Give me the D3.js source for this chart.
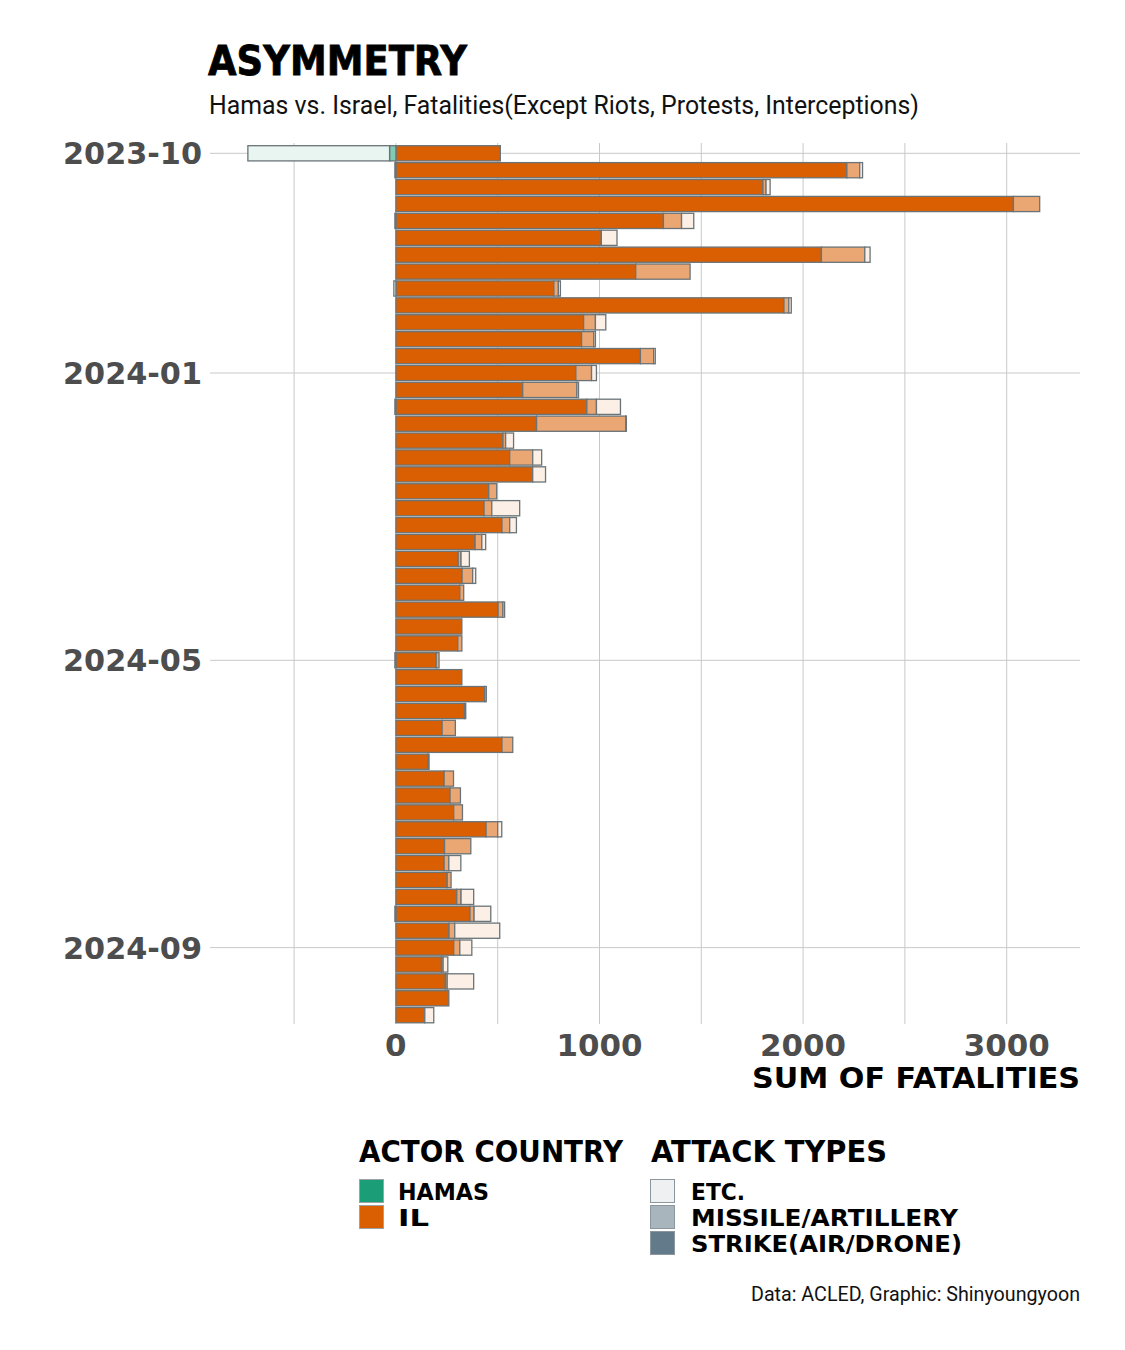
<!DOCTYPE html>
<html>
<head>
<meta charset="utf-8">
<script src="https://cdn.jsdelivr.net/npm/d3@7"></script>
<style>
  html, body { margin: 0; padding: 0; background: #fff; }
  svg { display: block; }
</style>
</head>
<body>
<svg id="chart" width="1125" height="1350"></svg>
<script>
// ---------------- DATA ----------------
const weeks = [
  "2023-10-01","2023-10-08","2023-10-15","2023-10-22","2023-10-29","2023-11-05","2023-11-12","2023-11-19","2023-11-26",
  "2023-12-03","2023-12-10","2023-12-17","2023-12-24","2023-12-31","2024-01-07","2024-01-14","2024-01-21","2024-01-28",
  "2024-02-04","2024-02-11","2024-02-18","2024-02-25","2024-03-03","2024-03-10","2024-03-17","2024-03-24","2024-03-31",
  "2024-04-07","2024-04-14","2024-04-21","2024-04-28","2024-05-05","2024-05-12","2024-05-19","2024-05-26","2024-06-02",
  "2024-06-09","2024-06-16","2024-06-23","2024-06-30","2024-07-07","2024-07-14","2024-07-21","2024-07-28","2024-08-04",
  "2024-08-11","2024-08-18","2024-08-25","2024-09-01","2024-09-08","2024-09-15","2024-09-22"
];
// IL fatalities by attack type
const ilStrike = [513,2215,1803,3033,1314,1009,2090,1178,776,1906,922,912,1201,884,623,938,691,526,559,672,456,433,521,389,306,325,314,502,324,304,198,324,436,337,227,521,157,237,266,284,443,239,237,252,299,364,261,284,224,243,260,142];
const ilMissile = [0,63,15,129,89,0,213,267,22,24,58,60,65,77,266,47,438,13,113,0,39,38,38,33,14,52,19,24,0,20,14,0,8,6,65,53,6,46,51,43,57,129,23,19,21,20,28,30,8,9,0,0];
const ilEtc = [0,14,20,0,60,77,26,0,10,12,51,8,8,24,8,118,3,39,44,63,0,137,33,19,41,15,0,8,0,0,0,0,0,0,0,0,0,0,0,0,20,0,59,0,62,82,221,59,23,130,0,44];
// Hamas fatalities by attack type (drawn to the left)
const hamasStrike = new Array(52).fill(0);
const hamasMissile = [31,0,0,0,0,0,0,0,0,0,0,0,0,0,0,0,0,0,0,0,0,0,0,0,0,0,0,0,0,0,0,0,0,0,0,0,0,0,0,0,0,0,0,0,0,0,0,0,0,0,0,0];
const hamasEtc = [696,5,0,0,5,0,0,0,10,0,0,0,0,0,0,5,0,0,0,0,0,0,0,0,0,0,0,0,0,0,5,0,0,0,0,0,0,0,0,0,0,0,0,0,0,5,0,0,0,0,0,0];

const yTickWeeks = ["2023-10-01","2023-12-31","2024-04-28","2024-08-25"];
const yTickLabels = ["2023-10","2024-01","2024-05","2024-09"];
const xTicks = [0,1000,2000,3000];
const xGrid = [-500,0,500,1000,1500,2000,2500,3000];
const actors = ["HAMAS","IL"];
const attackTypes = ["ETC.","MISSILE/ARTILLERY","STRIKE(AIR/DRONE)"];

// ---------------- STYLE ----------------
const actorColor = {HAMAS: "#1b9e77", IL: "#d95f02"};
const typeAlpha = {strike: 1, missile: 0.55, etc: 0.1};
const legendTypeColor = ["#eef0f2", "#a9b5bc", "#627a8a"];
const strokeCol = "#6a7478";
const display = "'DejaVu Sans', sans-serif";
const cond = "Roboto, 'Liberation Sans Narrow', sans-serif";

function tint(hex, a) {
  const c = d3.rgb(hex);
  return d3.rgb(c.r*a + 255*(1-a), c.g*a + 255*(1-a), c.b*a + 255*(1-a)).formatHex();
}

const svg = d3.select("#chart");
svg.append("rect").attr("width",1125).attr("height",1350).attr("fill","#fff");

const plotL = 210, plotR = 1080, plotT = 143, plotB = 1024;
const x = d3.scaleLinear().domain([-913, 3360]).range([plotL, plotR]);
const y = d3.scaleBand().domain(weeks).range([144.85, 1023.65]).paddingInner(0.1).paddingOuter(0.05);

// grid
const grid = svg.append("g");
grid.selectAll("line.v").data(xGrid).join("line")
  .attr("x1", d => x(d)).attr("x2", d => x(d))
  .attr("y1", plotT).attr("y2", plotB)
  .attr("stroke", "#c9c9c9").attr("stroke-width", 1);
grid.selectAll("line.h").data(yTickWeeks).join("line")
  .attr("x1", plotL).attr("x2", plotR)
  .attr("y1", d => y(d) + y.bandwidth()/2).attr("y2", d => y(d) + y.bandwidth()/2)
  .attr("stroke", "#c9c9c9").attr("stroke-width", 1);

// build segments
const segs = [];
weeks.forEach((w, i) => {
  let acc = 0;
  [["strike", ilStrike[i]], ["missile", ilMissile[i]], ["etc", ilEtc[i]]].forEach(([t, v]) => {
    if (v > 0) { segs.push({w, actor:"IL", type:t, x0:acc, x1:acc+v}); acc += v; }
  });
  acc = 0;
  [["strike", hamasStrike[i]], ["missile", hamasMissile[i]], ["etc", hamasEtc[i]]].forEach(([t, v]) => {
    if (v > 0) { segs.push({w, actor:"HAMAS", type:t, x0:acc, x1:acc-v}); acc -= v; }
  });
});

svg.append("g").selectAll("rect").data(segs).join("rect")
  .attr("x", d => x(Math.min(d.x0, d.x1)))
  .attr("width", d => Math.abs(x(d.x1) - x(d.x0)))
  .attr("y", d => y(d.w))
  .attr("height", y.bandwidth())
  .attr("fill", d => tint(actorColor[d.actor], typeAlpha[d.type]))
  .attr("stroke", strokeCol).attr("stroke-width", 1.3);

// y axis labels
svg.append("g").selectAll("text").data(yTickWeeks).join("text")
  .attr("x", 202).attr("y", d => y(d) + y.bandwidth()/2 + 11)
  .attr("text-anchor", "end")
  .attr("font-family", display).attr("font-weight", "bold").attr("font-size", 31)
  .attr("fill", "#4d4d4d")
  .attr("textLength", 139).attr("lengthAdjust", "spacingAndGlyphs")
  .text((d, i) => yTickLabels[i]);

// x axis labels
svg.append("g").selectAll("text").data(xTicks).join("text")
  .attr("x", d => x(d)).attr("y", 1056)
  .attr("text-anchor", "middle")
  .attr("font-family", display).attr("font-weight", "bold").attr("font-size", 30)
  .attr("fill", "#4d4d4d")
  .each(function(d) {
    const s = String(d);
    d3.select(this).attr("textLength", s.length * 21.5).attr("lengthAdjust", "spacingAndGlyphs");
  })
  .text(d => String(d));

// axis title
svg.append("text").attr("x", 1080).attr("y", 1088).attr("text-anchor", "end")
  .attr("font-family", display).attr("font-weight", "bold").attr("font-size", 28)
  .attr("fill", "#000")
  .attr("textLength", 328).attr("lengthAdjust", "spacingAndGlyphs")
  .text("SUM OF FATALITIES");

// title & subtitle
svg.append("text").attr("x", 208).attr("y", 75)
  .attr("font-family", display).attr("font-weight", "bold").attr("font-size", 40)
  .attr("fill", "#000").attr("stroke", "#000").attr("stroke-width", 0.8)
  .attr("textLength", 259).attr("lengthAdjust", "spacingAndGlyphs")
  .text("ASYMMETRY");
svg.append("text").attr("x", 209).attr("y", 114)
  .attr("font-family", cond).attr("font-size", 26)
  .attr("fill", "#111")
  .attr("textLength", 710).attr("lengthAdjust", "spacingAndGlyphs")
  .text("Hamas vs. Israel, Fatalities(Except Riots, Protests, Interceptions)");

// legends
const lg = svg.append("g");
lg.append("text").attr("x", 359).attr("y", 1162)
  .attr("font-family", display).attr("font-weight", "bold").attr("font-size", 30)
  .attr("textLength", 264).attr("lengthAdjust", "spacingAndGlyphs")
  .text("ACTOR COUNTRY");
lg.append("text").attr("x", 651).attr("y", 1162)
  .attr("font-family", display).attr("font-weight", "bold").attr("font-size", 30)
  .attr("textLength", 236).attr("lengthAdjust", "spacingAndGlyphs")
  .text("ATTACK TYPES");

const actorLabelW = [91, 31];
actors.forEach((a, i) => {
  const yy = 1179 + i * 26;
  lg.append("rect").attr("x", 359.5).attr("y", yy + 0.5).attr("width", 24).attr("height", 23)
    .attr("fill", actorColor[a]).attr("stroke", "#9aa3a8").attr("stroke-width", 1);
  lg.append("text").attr("x", 398).attr("y", yy + 21)
    .attr("font-family", display).attr("font-weight", "bold").attr("font-size", 23)
    .attr("textLength", actorLabelW[i]).attr("lengthAdjust", "spacingAndGlyphs")
    .text(a);
});
const typeLabelW = [54, 267, 271];
attackTypes.forEach((t, i) => {
  const yy = 1179 + i * 26;
  lg.append("rect").attr("x", 650.5).attr("y", yy + 0.5).attr("width", 24).attr("height", 23)
    .attr("fill", legendTypeColor[i]).attr("stroke", "#8a979e").attr("stroke-width", 1);
  lg.append("text").attr("x", 691).attr("y", yy + 21)
    .attr("font-family", display).attr("font-weight", "bold").attr("font-size", 23)
    .attr("textLength", typeLabelW[i]).attr("lengthAdjust", "spacingAndGlyphs")
    .text(t);
});

// caption
svg.append("text").attr("x", 1080).attr("y", 1301).attr("text-anchor", "end")
  .attr("font-family", cond).attr("font-size", 21).attr("fill", "#111")
  .attr("textLength", 329).attr("lengthAdjust", "spacingAndGlyphs")
  .text("Data: ACLED, Graphic: Shinyoungyoon");
</script>
</body>
</html>
